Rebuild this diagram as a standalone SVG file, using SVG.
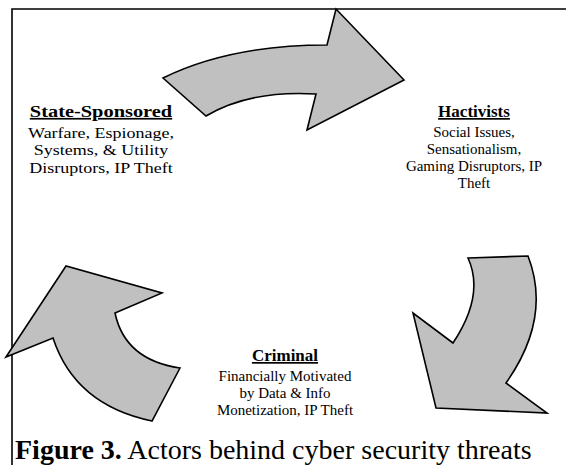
<svg xmlns="http://www.w3.org/2000/svg" width="566" height="465" viewBox="0 0 566 465">
  <style>
    .frame { stroke: #000; stroke-width: 1.6; fill: none; }
    .arrow { fill: #C0C0C0; stroke: #000; stroke-width: 1.6; stroke-linejoin: miter; }
    text { font-family: "Liberation Serif", "Times New Roman", serif; fill: #000; }
    .title { font-size: 17px; font-weight: bold; text-decoration: underline; text-anchor: middle; }
    .body { font-size: 15px; text-anchor: middle; }
    .caption { font-size: 28px; }
  </style>
  <rect width="566" height="465" fill="#fff"/>
  <g id="frame">
    <path class="frame" d="M12,465 L12,9 L566,9"/>
  </g>
  <g id="connectors">
    <path id="arrow-state-to-hactivists" class="arrow" d="M163,78 Q230,45 327,45 L336,9 L404,80 L307,130 L316,94 Q250,90 206,116 Z"/>
    <path id="arrow-hactivists-to-criminal" class="arrow" d="M468,258 L528,256 Q552,318 506,383 L547,413 L436,408 L413,313 L453,343 Q485,295 468,258 Z"/>
    <path id="arrow-criminal-to-state" class="arrow" d="M6,357 L66,266 L162,293 L115,313 Q125,360 180,368 L152,421 Q75,405 53,338 Z"/>
  </g>
  <g id="node-state-sponsored" transform="translate(101,0) scale(1.2,1)">
    <text class="title" x="0" y="117" font-size="17.5">State-Sponsored</text>
    <text class="body" x="0" y="138" font-size="14.8">Warfare, Espionage,</text>
    <text class="body" x="0" y="155.5" font-size="14.8">Systems, &amp; Utility</text>
    <text class="body" x="0" y="173" font-size="14.8">Disruptors, IP Theft</text>
  </g>
  <g id="node-hactivists">
    <text class="title" x="474" y="117">Hactivists</text>
    <text class="body" x="474" y="137">Social Issues,</text>
    <text class="body" x="474" y="154">Sensationalism,</text>
    <text class="body" x="474" y="171">Gaming Disruptors, IP</text>
    <text class="body" x="474" y="188">Theft</text>
  </g>
  <g id="node-criminal">
    <text class="title" x="285" y="361">Criminal</text>
    <text class="body" x="285" y="381">Financially Motivated</text>
    <text class="body" x="285" y="398">by Data &amp; Info</text>
    <text class="body" x="285" y="415">Monetization, IP Theft</text>
  </g>
  <g id="caption">
    <text class="caption" x="15" y="459"><tspan font-weight="bold">Figure 3.</tspan> Actors behind cyber security threats</text>
  </g>
</svg>
